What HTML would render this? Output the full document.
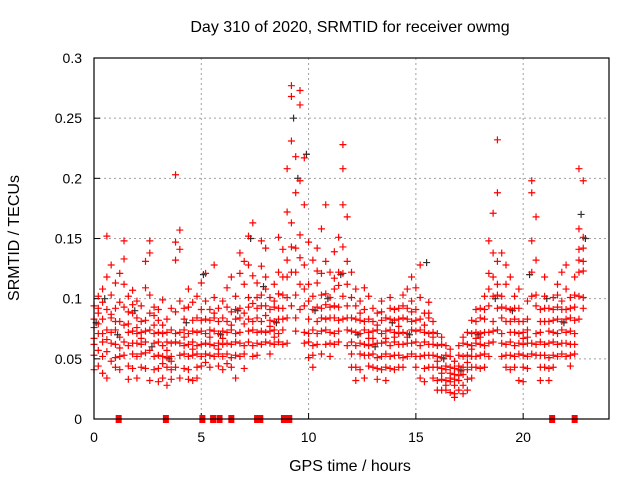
<!DOCTYPE html>
<html><head><meta charset="utf-8"><style>
body{margin:0;background:#fff}
svg text{font-family:"Liberation Sans",Arial,sans-serif;font-size:14px;fill:#000}
svg text.big{font-size:16px}
</style></head><body>
<svg id="chart" width="640" height="480" xmlns="http://www.w3.org/2000/svg">
<text class="big" x="350" y="32" text-anchor="middle">Day 310 of 2020, SRMTID for receiver owmg</text>
<text class="big" x="350" y="471" text-anchor="middle">GPS time / hours</text>
<text class="big" transform="translate(19,238) rotate(-90)" text-anchor="middle">SRMTID / TECUs</text>
<g id="grid"></g>
<g id="ticks"></g>
<g id="black"></g>
<g id="red"></g>
<rect x="94" y="58" width="515" height="361" fill="none" stroke="#000" stroke-width="1.2"/>
</svg>
<script>
const xTicks=[0,5,10,15,20];
const yTicks=[0,0.05,0.1,0.15,0.2,0.25,0.3];
const yTickLabels=["0","0.05","0.1","0.15","0.2","0.25","0.3"];
const binTimes=[];for(let i=0;i<115;i++)binTimes.push(+(i*0.2).toFixed(1));
const redBins=[
[.062,.083,.094,.053,.041,.076,.067],[.071,.088,.102,.057,.044,.079,.092],[.083,.064,.097,.108,.052,.038,.071],[.091,.118,.152,.074,.056,.034,.066],[.063,.084,.103,.128,.048,.072,.087],
[.074,.092,.113,.051,.062,.043,.081],[.052,.081,.097,.121,.068,.041,.059],[.093,.112,.148,.133,.064,.053,.078],[.061,.079,.102,.044,.072,.033,.089],[.054,.073,.088,.107,.063,.042,.095],
[.063,.084,.098,.052,.034,.071,.076],[.072,.094,.062,.043,.081,.054,.067],[.055,.082,.109,.131,.064,.042,.073],[.074,.103,.138,.148,.057,.032,.088],[.063,.086,.052,.041,.093,.071,.078],
[.053,.072,.091,.042,.031,.064,.082],[.061,.078,.099,.034,.052,.071,.046],[.043,.064,.083,.051,.028,.072,.057],[.052,.074,.092,.041,.033,.063,.048],[.064,.132,.203,.147,.089,.043,.071],
[.053,.141,.157,.098,.072,.034,.063],[.061,.083,.054,.042,.074,.092,.068],[.052,.071,.093,.108,.041,.033,.062],[.064,.082,.097,.053,.032,.073,.058],[.043,.061,.084,.102,.054,.034,.072],
[.062,.091,.113,.073,.052,.044,.082],[.071,.098,.121,.083,.054,.063,.047],[.053,.074,.091,.062,.043,.082,.068],[.061,.084,.101,.128,.052,.073,.088],[.044,.063,.092,.071,.054,.081,.058],
[.052,.073,.098,.062,.041,.084,.067],[.063,.081,.109,.054,.072,.093,.046],[.051,.074,.089,.118,.043,.062,.078],[.064,.083,.102,.053,.071,.034,.091],[.072,.092,.121,.138,.063,.052,.084],
[.061,.079,.112,.131,.054,.042,.088],[.073,.101,.128,.152,.064,.083,.093],[.052,.081,.119,.163,.061,.074,.096],[.063,.092,.113,.072,.053,.084,.101],[.081,.103,.127,.148,.073,.062,.094],
[.072,.094,.118,.142,.064,.108,.086],[.063,.082,.101,.073,.091,.054,.077],[.074,.093,.112,.081,.062,.098,.068],[.083,.104,.122,.151,.071,.092,.064],[.092,.118,.141,.083,.062,.103,.074],
[.101,.132,.172,.208,.084,.063,.118],[.122,.163,.231,.268,.277,.094,.143],[.103,.142,.188,.218,.073,.084,.122],[.112,.153,.198,.261,.273,.091,.134],[.094,.128,.178,.217,.072,.063,.108],
[.083,.112,.147,.064,.051,.098,.071],[.074,.102,.132,.053,.043,.091,.061],[.081,.113,.142,.062,.071,.123,.093],[.092,.121,.158,.073,.054,.103,.084],[.083,.104,.131,.178,.062,.074,.095],
[.072,.093,.122,.063,.052,.101,.084],[.084,.108,.139,.071,.062,.094,.117],[.093,.122,.151,.082,.064,.111,.073],[.102,.143,.178,.208,.228,.083,.121],[.094,.131,.168,.074,.061,.112,.084],
[.073,.101,.122,.054,.043,.084,.064],[.061,.083,.108,.043,.032,.072,.094],[.054,.082,.098,.063,.041,.071,.088],[.062,.091,.109,.053,.034,.074,.081],[.053,.072,.102,.061,.044,.083,.067],
[.062,.081,.054,.043,.073,.092,.067],[.051,.074,.088,.042,.033,.063,.078],[.063,.082,.098,.052,.041,.071,.089],[.054,.073,.064,.043,.084,.032,.067],[.061,.083,.101,.052,.042,.074,.092],
[.072,.091,.053,.041,.064,.082,.068],[.053,.071,.092,.062,.043,.083,.077],[.062,.084,.103,.051,.072,.043,.094],[.071,.092,.108,.063,.052,.083,.068],[.063,.081,.098,.118,.054,.074,.089],
[.052,.073,.091,.109,.043,.064,.082],[.061,.083,.101,.128,.052,.034,.074],[.053,.072,.088,.042,.064,.031,.078],[.062,.084,.097,.053,.043,.071,.088],[.043,.062,.081,.034,.053,.072,.068],
[.032,.052,.071,.043,.061,.024,.048],[.033,.042,.062,.051,.024,.068,.038],[.024,.041,.053,.032,.061,.044,.028],[.031,.043,.022,.052,.034,.058,.038],[.021,.033,.042,.048,.028,.018,.037],
[.032,.041,.053,.061,.024,.044,.036],[.028,.052,.043,.063,.021,.068,.037],[.041,.053,.062,.033,.072,.024,.047],[.043,.061,.082,.052,.034,.071,.058],[.052,.063,.081,.091,.043,.072,.067],
[.053,.071,.092,.062,.042,.084,.068],[.061,.083,.102,.054,.072,.043,.091],[.072,.094,.121,.148,.063,.052,.108],[.081,.102,.138,.171,.064,.073,.118],[.092,.131,.188,.232,.074,.112,.103],
[.071,.102,.138,.063,.052,.084,.093],[.062,.081,.112,.128,.053,.043,.092],[.053,.072,.091,.118,.041,.064,.081],[.061,.083,.102,.052,.043,.072,.092],[.054,.071,.092,.108,.032,.063,.081],
[.043,.062,.081,.053,.031,.072,.067],[.052,.074,.098,.063,.042,.083,.068],[.063,.102,.148,.188,.198,.054,.122],[.071,.103,.132,.168,.062,.053,.094],[.053,.072,.091,.043,.064,.032,.081],
[.062,.081,.102,.118,.053,.043,.092],[.051,.073,.092,.042,.063,.032,.081],[.064,.082,.101,.053,.072,.043,.091],[.071,.093,.112,.062,.052,.083,.103],[.063,.081,.098,.122,.054,.074,.091],
[.072,.091,.108,.128,.063,.052,.083],[.062,.084,.101,.053,.073,.044,.092],[.071,.093,.118,.062,.054,.082,.103],[.083,.122,.158,.208,.141,.102,.132],[.092,.131,.151,.198,.123,.101,.142]
];
const blackTimes=[0.1,0.5,1.1,1.9,2.7,3.5,4.3,5.1,5.9,6.7,7.3,7.9,8.5,9.3,9.5,9.9,10.3,10.9,11.5,12.3,13.1,13.9,14.7,15.5,16.3,17.1,17.9,18.7,19.5,20.3,21.1,21.9,22.7,22.9];
const blackValues=[.08,.1,.07,.09,.06,.05,.08,.12,.07,.09,.15,.11,.08,.25,.2,.22,.09,.1,.12,.07,.06,.08,.07,.13,.05,.04,.07,.1,.09,.12,.1,.08,.17,.15];
const zeroTimes=[1.15,3.35,5.05,5.55,5.85,6.4,7.6,7.75,8.85,9.1,21.35,22.4];
const NS="http://www.w3.org/2000/svg";
const xS=t=>94+t*(515/24), yS=v=>419-v*(361/0.3);
function el(tag,attrs,parent){const e=document.createElementNS(NS,tag);for(const k in attrs)e.setAttribute(k,attrs[k]);parent.appendChild(e);return e;}
const grid=document.getElementById('grid'),ticks=document.getElementById('ticks');
xTicks.forEach(t=>{const x=xS(t);
 if(t>0){const g=el('line',{x1:x,x2:x,y1:58,y2:419,stroke:'#a0a0a0','stroke-dasharray':'2,3'},grid);
 
 }
 const tk=el('line',{x1:x,x2:x,y1:419,y2:413,stroke:'#000'},ticks);
 
 
 const tx=el('text',{x:x,y:442,'text-anchor':'middle'},ticks);tx.textContent=t;
 
 });
yTicks.forEach((v,i)=>{const y=yS(v);
 if(v>0){const g=el('line',{x1:94,x2:609,y1:y,y2:y,stroke:'#a0a0a0','stroke-dasharray':'2,3'},grid);
 
 }
 const tk=el('line',{x1:94,x2:100,y1:y,y2:y,stroke:'#000'},ticks);
 
 
 const tx=el('text',{x:82,y:y+5,'text-anchor':'end'},ticks);tx.textContent=yTickLabels[i];
 
 });
function plus(g,t,v,col){const x=xS(t),y=yS(v);
 const p=el('path',{d:`M${x-3.5},${y}h7M${x},${y-3.5}v7`,stroke:col,'stroke-width':1.2},g);
 
 }
const bg=document.getElementById('black'),rg=document.getElementById('red');
blackTimes.forEach((t,i)=>plus(bg,t,blackValues[i],'#303030'));
redBins.forEach((vals,i)=>vals.forEach(v=>plus(rg,binTimes[i],v,'#ff0000')));
zeroTimes.forEach(t=>{const r=el('rect',{x:xS(t)-3,y:yS(0)-4,width:6,height:8,fill:'#ff0000'},rg);
 
 });
</script>
</body></html>
